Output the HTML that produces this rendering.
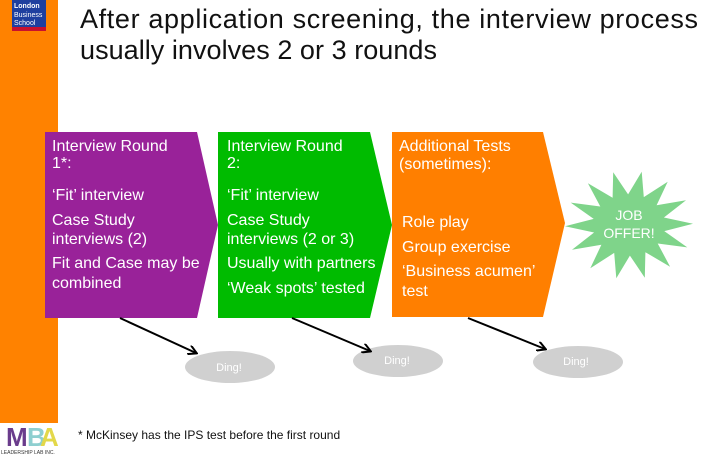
<!DOCTYPE html>
<html><head><meta charset="utf-8"><style>
body{margin:0;width:728px;height:455px;overflow:hidden;background:#fff;font-family:"Liberation Sans",sans-serif}
</style></head><body>
<svg width="728" height="455" xmlns="http://www.w3.org/2000/svg" style="position:absolute;left:0;top:0;font-family:'Liberation Sans',sans-serif">
<rect x="0" y="0" width="58" height="423" fill="#ff8200"/>
<rect x="12" y="0" width="34" height="31" fill="#1f3f9f"/>
<rect x="12" y="27" width="34" height="4" fill="#c8102e"/>
<text x="14" y="8" font-size="7" font-weight="bold" fill="#fff">London</text>
<text x="14" y="17" font-size="7" fill="#fff">Business</text>
<text x="14" y="25" font-size="7" fill="#fff">School</text>
<text x="6" y="446" font-size="26" font-weight="bold" fill="#6a3c8c" letter-spacing="-3">M</text>
<text x="27" y="446" font-size="26" font-weight="bold" fill="#8ecfd0" letter-spacing="-3">B</text>
<text x="40" y="446" font-size="26" font-weight="bold" fill="#e3d84a">A</text>
<text x="1" y="454" font-size="5" fill="#333">LEADERSHIP LAB INC.</text>
<text x="80" y="28" font-size="27" fill="#111" textLength="618" lengthAdjust="spacing">After application screening, the interview process</text>
<text x="80" y="59" font-size="27" fill="#111" textLength="357" lengthAdjust="spacing">usually involves 2 or 3 rounds</text>
<polygon points="45,132 197,132 218,225 197,318 45,318" fill="#992299"/>
<polygon points="218,132 370,132 392,225 370,318 218,318" fill="#00bb00"/>
<polygon points="392,132 543,132 565,223 543,317 392,317" fill="#ff7f00"/>
<g font-size="16" fill="#fff">
<text x="52" y="151">Interview Round</text><text x="52" y="168">1*:</text>
<text x="52" y="200">‘Fit’ interview</text><text x="52" y="225">Case Study</text>
<text x="52" y="244">interviews (2)</text><text x="52" y="268">Fit and Case may be</text>
<text x="52" y="288">combined</text>
<text x="227" y="151">Interview Round</text><text x="227" y="168">2:</text>
<text x="227" y="200">‘Fit’ interview</text><text x="227" y="225">Case Study</text>
<text x="227" y="244">interviews (2 or 3)</text><text x="227" y="268">Usually with partners</text>
<text x="227" y="293">‘Weak spots’ tested</text>
<text x="399" y="151">Additional Tests</text><text x="399" y="169">(sometimes):</text>
<text x="402" y="227">Role play</text><text x="402" y="252">Group exercise</text>
<text x="402" y="276">‘Business acumen’</text><text x="402" y="296">test</text>
</g>
<polygon id="star" fill="#7fd48a" points=""/>
<text x="629" y="220" font-size="14" fill="#fff" text-anchor="middle">JOB</text>
<text x="629" y="238" font-size="14" fill="#fff" text-anchor="middle">OFFER!</text>
<g fill="#d0d0d0">
<ellipse cx="230" cy="367" rx="45" ry="16"/>
<ellipse cx="398" cy="361" rx="45" ry="16"/>
<ellipse cx="578" cy="362" rx="45" ry="16"/>
</g>
<g font-size="11" fill="#fff" text-anchor="middle">
<text x="229" y="371">Ding!</text><text x="397" y="364">Ding!</text><text x="576" y="365">Ding!</text>
</g>
<defs><marker id="a" markerWidth="10" markerHeight="10" refX="8" refY="5" orient="auto" markerUnits="userSpaceOnUse"><path d="M0,0 L9,5 L0,10" fill="none" stroke="#000" stroke-width="2"/></marker></defs>
<g stroke="#000" stroke-width="2" marker-end="url(#a)">
<line x1="120" y1="318" x2="196" y2="353"/>
<line x1="292" y1="318" x2="370" y2="351"/>
<line x1="468" y1="318" x2="545" y2="349"/>
</g>
<text x="78" y="439" font-size="12" fill="#111">* McKinsey has the IPS test before the first round</text>
</svg>
<script>
var p=[],cx=629,cy=225,n=14;
for(var i=0;i<2*n;i++){var r=i%2?36:64;var a=Math.PI*i/n-Math.PI/2+0.2;p.push((cx+r*Math.cos(a)).toFixed(1)+","+(cy+r*0.85*Math.sin(a)).toFixed(1));}
document.getElementById("star").setAttribute("points",p.join(" "));
</script>
</body></html>
